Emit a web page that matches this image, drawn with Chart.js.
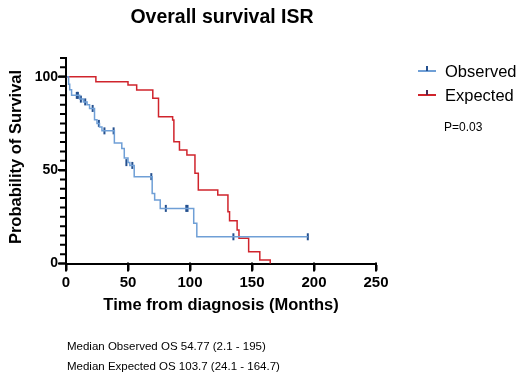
<!DOCTYPE html>
<html>
<head>
<meta charset="utf-8">
<script src="https://cdn.jsdelivr.net/npm/chart.js@4"></script>
<style>
  body { margin: 0; background: #fff; }
  #wrap { position: relative; width: 520px; height: 378px; font-family: "Liberation Sans", Arial, sans-serif; }
  .txt { position: absolute; white-space: nowrap; color: #000; }
  #title { left: 0; width: 444px; top: 5px; text-align: center; font-weight: bold; font-size: 19.5px; }
  #ytitle { left: -85px; top: 147px; width: 200px; height: 20px; line-height: 20px; text-align: center;
            font-weight: bold; font-size: 16.5px; transform: rotate(-90deg); }
  .leg { position: absolute; left: 418px; height: 20px; }
  .leg .ln { position: absolute; left: 0; top: 9px; width: 18px; height: 2px; }
  .leg .tk { position: absolute; left: 8px; top: 5px; width: 2px; height: 5px; }
  .leg .lb { position: absolute; left: 27px; top: 0; font-size: 16.5px; line-height: 20px; white-space: nowrap; }
  #pval { left: 444px; top: 120px; font-size: 12px; }
  .note { left: 67px; font-size: 11.5px; }
</style>
</head>
<body>
<div id="wrap">
  <canvas id="km" width="520" height="378"></canvas>
  <div class="txt" id="title">Overall survival ISR</div>
  <div class="txt" id="ytitle">Probability of Survival</div>
  <div class="leg" style="top:61px"><div class="ln" style="background:#6f9fd6"></div><div class="tk" style="background:#24508f"></div><div class="lb">Observed</div></div>
  <div class="leg" style="top:85px"><div class="ln" style="background:#d0242c"></div><div class="tk" style="background:#4a2a55"></div><div class="lb">Expected</div></div>
  <div class="txt" id="pval">P=0.03</div>
  <div class="txt note" style="top:340px">Median Observed OS 54.77 (2.1 - 195)</div>
  <div class="txt note" style="top:360px">Median Expected OS 103.7 (24.1 - 164.7)</div>
</div>
<script>
"use strict";

// observed survival (step points, value after each drop)
let obsMonths   = [0, 2.1, 3, 4.5, 11, 14, 17, 19, 23, 25, 27, 29, 39, 45, 47, 50, 51.5, 55, 69.5, 71.5, 76, 103, 105.5, 195];
let obsSurvival = [100, 96, 93, 90, 88, 86.5, 85, 83, 77, 75, 73, 71, 64.5, 61.5, 56.5, 54, 52.5, 46.5, 37.5, 34, 29.5, 21.5, 14.3, 14.3];

// censored observations (tick marks)
let censorMonths   = [8.7, 9.6, 12, 15.5, 21.5, 26.5, 31, 38.4, 48.7, 53.5, 68.8, 80.5, 97, 98, 135, 195];
let censorSurvival = [90, 90, 88, 86.5, 83, 75, 71, 71, 54, 52.5, 46.5, 29.5, 29.5, 29.5, 14.3, 14.3];

// expected survival
let expMonths   = [0, 24.1, 50, 57, 70, 74.6, 86, 87, 91.5, 97.5, 104, 106.7, 122.4, 130.6, 131.9, 138, 139.5, 147.3, 156.3, 164.7];
let expSurvival = [100, 97.3, 95.5, 92.9, 88.4, 78.6, 76.8, 65.2, 60.8, 58.1, 48.3, 39.3, 36.7, 27.7, 22.9, 17.9, 13.5, 6.3, 1.9, 0];

let xTickLabels = [0, 50, 100, 150, 200, 250];
let yTickLabels = [0, 50, 100];

function toPoints(xs, ys) {
    let pts = [];
    for (let i = 0; i < xs.length; i++) {
        pts.push({x: xs[i], y: ys[i]});
    }
    return pts;
}

// tick marks drawn from the scales (major + minor on y)
const axisTicks = {
    id: "axisTicks",
    afterDraw(chart) {
        let c = chart.ctx;
        let xs = chart.scales.x;
        let ys = chart.scales.y;
        let left = chart.chartArea.left;
        let bottom = chart.chartArea.bottom;
        c.save();
        c.strokeStyle = "#000000";
        c.lineWidth = 2;
        c.beginPath();
        for (let v = 0; v <= 110; v += 5) {
            let py = ys.getPixelForValue(v);
            let len = yTickLabels.indexOf(v) >= 0 ? 8 : 6;
            c.moveTo(left + 1, py);
            c.lineTo(left - len, py);
        }
        for (let i = 0; i < xTickLabels.length; i++) {
            let px = xs.getPixelForValue(xTickLabels[i]);
            c.moveTo(px, bottom - 1);
            c.lineTo(px, bottom + 8);
        }
        c.stroke();
        c.restore();
    }
};

let ctx = document.getElementById("km");
let myChart = new Chart(ctx, {
    type: "line",
    data: {
        datasets: [
            {
                label: "Observed",
                data: toPoints(obsMonths, obsSurvival),
                borderColor: "#6f9fd6",
                borderWidth: 1.5,
                stepped: true,
                pointRadius: 0,
                fill: false,
                clip: false
            },
            {
                label: "Expected",
                data: toPoints(expMonths, expSurvival),
                borderColor: "#d0242c",
                borderWidth: 1.5,
                stepped: true,
                pointRadius: 0,
                fill: false,
                clip: false
            },
            {
                label: "Censored",
                type: "scatter",
                data: toPoints(censorMonths, censorSurvival),
                pointStyle: "line",
                rotation: 90,
                pointRadius: 3.5,
                borderColor: "#24508f",
                borderWidth: 2,
                clip: false
            }
        ]
    },
    options: {
        responsive: false,
        animation: false,
        layout: { padding: { left: 0, right: 144, top: 58, bottom: 54.5 } },
        plugins: {
            legend: { display: false },
            tooltip: { enabled: false }
        },
        scales: {
            x: {
                type: "linear",
                min: 0,
                max: 250,
                afterFit: function (scale) { scale.height = 60; },
                afterBuildTicks: function (scale) {
                    scale.ticks = xTickLabels.map(function (v) { return {value: v}; });
                },
                border: { color: "#000", width: 2 },
                grid: { drawOnChartArea: false, drawTicks: true, tickLength: 7, tickColor: "#000", tickWidth: 2 },
                ticks: {
                    color: "#000",
                    padding: 3,
                    maxRotation: 0,
                    font: { family: "Liberation Sans", size: 15, weight: "bold" }
                },
                title: {
                    display: true,
                    text: "Time from diagnosis (Months)",
                    color: "#000",
                    padding: { top: 0, bottom: 8.5 },
                    font: { family: "Liberation Sans", size: 16.5, weight: "bold" }
                }
            },
            y: {
                min: 0,
                max: 110,
                afterFit: function (scale) { scale.width = 66; },
                afterBuildTicks: function (scale) {
                    scale.ticks = yTickLabels.map(function (v) { return {value: v}; });
                },
                border: { color: "#000", width: 2 },
                grid: { drawOnChartArea: false, drawTicks: true, tickLength: 7, tickColor: "#000", tickWidth: 2 },
                ticks: {
                    color: "#000",
                    padding: 1,
                    font: { family: "Liberation Sans", size: 14, weight: "bold" }
                },
                title: { display: false }
            }
        }
    },
    plugins: [axisTicks]
});
</script>
</body>
</html>
